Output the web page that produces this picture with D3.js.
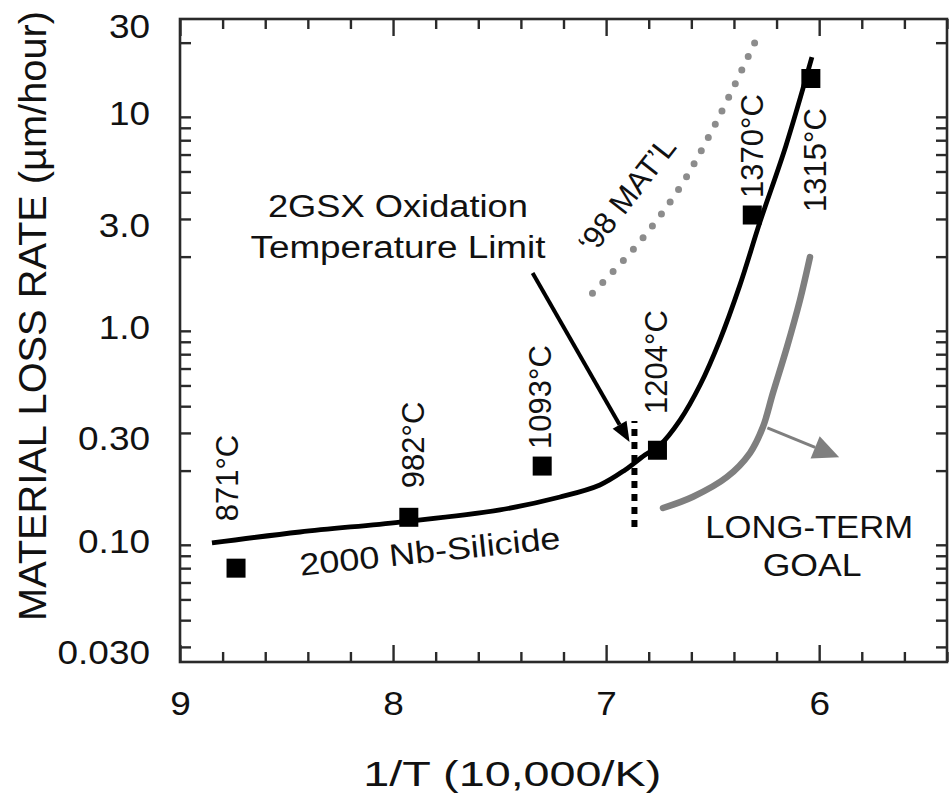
<!DOCTYPE html>
<html><head><meta charset="utf-8">
<script src="https://cdn.jsdelivr.net/npm/d3@7/dist/d3.min.js"></script>
<style>
body{margin:0;background:#fff}
text{font-family:"Liberation Sans",Arial,Helvetica,sans-serif;fill:#111}
</style>
</head><body>
<svg id="chart" width="950" height="800"></svg>
<script>
// ---------- data ----------
const xMajorTicks = [9, 8, 7, 6];
const yTickValues = [30, 10, 3, 1, 0.3, 0.1, 0.03];
const yTickLabels = ["30", "10", "3.0", "1.0", "0.30", "0.10", "0.030"];

// measured points (1/T in 10,000/K, loss rate in µm/hour)
const markerInvT  = [8.737, 7.926, 7.30, 6.759, 6.314, 6.039];
const markerRate  = [0.070, 0.121, 0.21, 0.249, 3.13, 13.6];
const markerLabels = ["871°C", "982°C", "1093°C", "1204°C", "1370°C", "1315°C"];
const markerLabelInvT = [8.775, 7.903, 7.308, 6.764, 6.314, 6.018];
const markerLabelRate = [0.1847, 0.2636, 0.4413, 0.6434, 6.573, 5.654];

// 2000 Nb-Silicide curve
const silicideInvT = [8.850, 8.437, 7.967, 7.498, 7.216, 7.029, 6.911, 6.818, 6.747, 6.653, 6.559, 6.466, 6.372, 6.278, 6.156, 6.034];
const silicideRate = [0.0918, 0.1033, 0.115, 0.131, 0.1505, 0.1714, 0.2014, 0.2366, 0.2636, 0.3446, 0.5023, 0.815, 1.472, 2.90, 6.6, 17.1];

// '98 material (dotted)
const mat98InvT = [7.064, 6.843, 6.656, 6.497, 6.29];
const mat98Rate = [1.35, 2.34, 4.18, 7.98, 21.2];

// long-term goal curve
const goalInvT = [6.733, 6.592, 6.433, 6.325, 6.264, 6.217, 6.151, 6.090, 6.043];
const goalRate = [0.1337, 0.151, 0.1866, 0.2416, 0.3197, 0.4609, 0.7562, 1.254, 1.991];

// 2GSX oxidation temperature limit (dotted vertical)
const limitInvT = [6.867, 6.867];
const limitRate = [0.109, 0.341];

// annotation arrows [from, to]
const limitArrowInvT = [7.345, 6.89];
const limitArrowRate = [1.675, 0.272];
const goalArrowInvT = [6.243, 5.906];
const goalArrowRate = [0.317, 0.231];

// ---------- chart ----------
const svg = d3.select("#chart");
const x = d3.scaleLinear().domain([9, 5.4]).range([180, 947]);
const y = d3.scaleLog().domain([0.0255, 25.8]).range([662, 19]);

const axisColor = "#2a2a2a";
const hStretch = 1.12; // the figure is slightly wider than tall

// minor ticks
const xMinor = d3.range(9, 5.39, -0.2).map(v => +v.toFixed(1)).filter(v => !xMajorTicks.includes(v));
const yMinor = [];
[0.01, 0.1, 1, 10].forEach(dec => { for (let k = 2; k <= 9; k++) { const v = +(k*dec).toPrecision(3); if (v > 0.0255 && v < 25.8) yMinor.push(v); } });

function styleAxis(g){ g.select(".domain").remove(); g.selectAll("line").attr("stroke", axisColor).attr("stroke-width", 2.4); }
function stretchText(sel){
  sel.each(function(){ const w = this.getComputedTextLength(); d3.select(this).attr("textLength", w*hStretch).attr("lengthAdjust","spacingAndGlyphs"); });
}

svg.append("g").attr("transform","translate(0,662)")
  .call(d3.axisBottom(x).tickValues(xMajorTicks).tickSize(-17).tickPadding(30).tickFormat(d3.format("d")))
  .call(styleAxis)
  .call(g => g.selectAll("text").attr("font-size", 33).attr("font-family","Liberation Sans, Arial, sans-serif").attr("fill","#111").call(stretchText));
svg.append("g").attr("transform","translate(0,662)")
  .call(d3.axisBottom(x).tickValues(xMinor).tickSize(-10).tickFormat(""))
  .call(styleAxis);
svg.append("g").attr("transform","translate(0,19)")
  .call(d3.axisTop(x).tickValues(xMajorTicks).tickSize(-17).tickFormat(""))
  .call(styleAxis);
svg.append("g").attr("transform","translate(0,19)")
  .call(d3.axisTop(x).tickValues(xMinor).tickSize(-10).tickFormat(""))
  .call(styleAxis);

svg.append("g").attr("transform","translate(180,0)")
  .call(d3.axisLeft(y).tickValues(yMinor).tickSize(-11).tickFormat(""))
  .call(styleAxis);
svg.append("g").attr("transform","translate(947,0)")
  .call(d3.axisRight(y).tickValues(yMinor).tickSize(-11).tickFormat(""))
  .call(styleAxis);

// y labels (major values, no tick marks)
const yl = svg.append("g").attr("transform","translate(180,0)")
  .call(d3.axisLeft(y).tickValues(yTickValues).tickSize(0).tickPadding(30)
        .tickFormat((d,i) => yTickLabels[i]));
yl.select(".domain").remove();
yl.selectAll(".tick").attr("transform", d => `translate(0,${Math.min(Math.max(y(d) + 7, 27), 662)})`);
yl.selectAll("text").attr("font-size", 33).attr("font-family","Liberation Sans, Arial, sans-serif").attr("fill","#111").call(stretchText);

// frame
svg.append("rect").attr("x", x(9)).attr("y", y(25.8)).attr("width", x(5.4)-x(9)).attr("height", y(0.0255)-y(25.8))
  .attr("fill","none").attr("stroke", axisColor).attr("stroke-width", 2.6);

// axis titles
svg.append("text").attr("transform", `translate(${x(7.44)},786)`).attr("text-anchor","middle")
  .attr("font-size", 35).attr("textLength", 298).attr("lengthAdjust","spacingAndGlyphs").text("1/T (10,000/K)");
svg.append("text").attr("transform", "translate(46,316) rotate(-90)").attr("text-anchor","middle")
  .attr("font-size", 38).attr("textLength", 610).attr("lengthAdjust","spacingAndGlyphs").text("MATERIAL LOSS RATE (µm/hour)");

const line = (xs, ys, curve) => d3.line().curve(curve || d3.curveCatmullRom.alpha(0.5))(xs.map((v,i) => [x(v), y(ys[i])]));

// '98 MAT'L dotted
svg.append("path").attr("d", line(mat98InvT, mat98Rate)).attr("fill","none")
  .attr("stroke","#8c8c8c").attr("stroke-width", 7).attr("stroke-linecap","round").attr("stroke-dasharray","0 15");

// long-term goal
svg.append("path").attr("d", line(goalInvT, goalRate)).attr("fill","none")
  .attr("stroke","#7f7f7f").attr("stroke-width", 6.5).attr("stroke-linecap","round");

// silicide curve
svg.append("path").attr("d", line(silicideInvT, silicideRate)).attr("fill","none")
  .attr("stroke","#000").attr("stroke-width", 4.8).attr("stroke-linecap","butt");

// temperature limit dotted line
svg.append("path").attr("d", line(limitInvT, limitRate, d3.curveLinear)).attr("fill","none")
  .attr("stroke","#000").attr("stroke-width", 6).attr("stroke-dasharray","7 6");

// arrows
function arrow(xs, ys, color, w, headLen, headW){
  const x0 = x(xs[0]), y0 = y(ys[0]), x1 = x(xs[1]), y1 = y(ys[1]);
  const a = Math.atan2(y1-y0, x1-x0);
  const bx = x1 - headLen*Math.cos(a), by = y1 - headLen*Math.sin(a);
  svg.append("line").attr("x1",x0).attr("y1",y0).attr("x2",bx).attr("y2",by)
    .attr("stroke",color).attr("stroke-width",w);
  const px = -Math.sin(a)*headW/2, py = Math.cos(a)*headW/2;
  svg.append("path").attr("d", `M${x1},${y1}L${bx+px},${by+py}L${bx-px},${by-py}Z`).attr("fill",color);
}
arrow(limitArrowInvT, limitArrowRate, "#000", 4, 20, 16);
arrow(goalArrowInvT, goalArrowRate, "#7f7f7f", 3, 26, 24);

// markers
svg.append("g").selectAll("rect").data(markerInvT).join("rect")
  .attr("x", (d,i) => x(d) - 9.5).attr("y", (d,i) => y(markerRate[i]) - 9.5)
  .attr("width", 19).attr("height", 19).attr("fill", "#000");

// marker labels (rotated)
svg.append("g").selectAll("text").data(markerLabels).join("text")
  .attr("transform", (d,i) => `translate(${x(markerLabelInvT[i])},${y(markerLabelRate[i])}) rotate(-90)`)
  .attr("text-anchor","middle").attr("dominant-baseline","central").attr("font-size", 31).text(d => d);

// annotations
function label(t, xv, yv, opts){
  const el = svg.append("text").attr("transform", `translate(${x(xv)},${y(yv)}) rotate(${opts.rot||0})`)
    .attr("text-anchor","middle").attr("font-size", opts.size || 31).text(t);
  if (opts.len) el.attr("textLength", opts.len).attr("lengthAdjust","spacingAndGlyphs");
  if (opts.central) el.attr("dominant-baseline","central");
}
label("2GSX Oxidation", 7.977, 3.06, {len: 260});
label("Temperature Limit", 7.977, 1.97, {len: 295});
label("2000 Nb-Silicide", 7.822, 0.0748, {len: 262, rot: -6});
label("LONG-TERM", 6.047, 0.0968, {len: 208});
label("GOAL", 6.033, 0.0643, {len: 99});
label("‘98 MAT’L", 6.901, 3.88, {rot: -52, central: true, size: 31});
</script>
</body></html>
